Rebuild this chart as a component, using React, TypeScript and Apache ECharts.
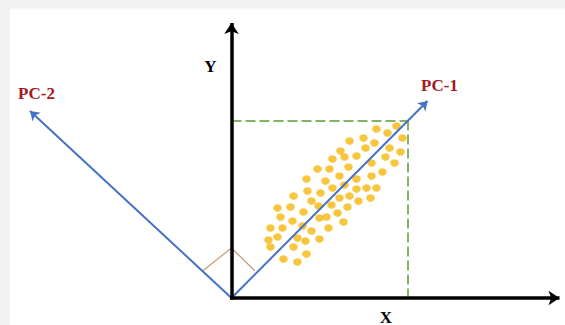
import React, { useEffect, useRef } from "react";
import * as echarts from "echarts";

// Data coordinates: origin of X/Y axes at (0, 0)
const dotsX = [145,165,156,171,132,118,143,134,158,169,109,113,125,101,154,163,140,98,86,117,151,140,75,94,108,125,113,101,125,135,145,76,89,62,118,108,127,139,80,100,87,116,46,59,72,106,49,88,95,61,112,71,39,51,80,97,46,37,66,74,88,39,62,75,52,66];
const dotsY = [169,172,165,160,160,157,155,150,150,146,147,141,142,139,141,135,135,129,129,131,126,122,119,117,122,119,113,110,109,110,110,107,105,102,102,100,97,100,97,93,92,91,90,91,86,85,81,80,81,77,76,72,70,70,67,70,61,58,60,57,59,51,51,44,39,36];

const axisEnds = { x: [328, 0], y: [0, 275] };
const pc1End = [196, 197];
const pc2End = [-201.5, 187];
const projection = [176.5, 177.5];
const rightAngle = [[-29, 27], [0, 50], [23.5, 27]];

const labelNames = ["Y", "X", "PC-1", "PC-2"];
const labelPos = [[-21, 232], [154.5, -19], [208, 213], [-195, 205]];

export default function App() {
  const ref = useRef<HTMLDivElement>(null);
  useEffect(() => {
    if (!ref.current) return;
    const chart = echarts.init(ref.current, null, { renderer: "svg" });
    const serif = "Liberation Serif";
    const blue = "#4472c4";
    const green = "#82b366";
    chart.setOption({
      animation: false,
      backgroundColor: "#ffffff",
      grid: { left: 0, right: 0, top: 0, bottom: 0, containLabel: false },
      xAxis: { type: "value", min: -231.5, max: 333.5, show: false },
      yAxis: { type: "value", min: -27, max: 298, show: false },
      graphic: [
        { type: "rect", shape: { x: 0, y: 0, width: 565, height: 8.5 }, style: { fill: "#f2f2f2" }, silent: true },
        { type: "rect", shape: { x: 0, y: 0, width: 10, height: 325 }, style: { fill: "#f2f2f2" }, silent: true },
      ],
      series: [
        {
          type: "lines",
          coordinateSystem: "cartesian2d",
          z: 2,
          lineStyle: { color: green, width: 2, type: [10, 4], opacity: 1 },
          symbol: "none",
          data: [
            { coords: [[0, projection[1]], [projection[0], projection[1]]] },
            { coords: [[projection[0], projection[1]], [projection[0], 0]] },
          ],
        },
        {
          type: "line",
          z: 2,
          symbol: "none",
          lineStyle: { color: "#c49a72", width: 1.2 },
          data: rightAngle,
        },
        {
          type: "scatter",
          z: 3,
          symbol: "circle",
          symbolSize: [8.5, 7.5],
          itemStyle: { color: "#f6b70e" },
          data: dotsX.map((x, i) => [x, dotsY[i]]),
        },
        {
          type: "lines",
          coordinateSystem: "cartesian2d",
          z: 4,
          lineStyle: { color: blue, width: 2, opacity: 1 },
          symbol: ["none", "arrow"],
          symbolSize: 9,
          data: [
            { coords: [[0, 0], pc1End] },
            { coords: [[0, 0], pc2End] },
          ],
        },
        {
          type: "lines",
          coordinateSystem: "cartesian2d",
          z: 5,
          lineStyle: { color: "#000000", width: 3.5, opacity: 1 },
          symbol: ["none", "arrow"],
          symbolSize: 11,
          data: [
            { coords: [[-1.5, 0], axisEnds.x] },
            { coords: [[0, -1.5], axisEnds.y] },
          ],
        },
      ],
    });
    const texts = labelNames.map((n, i) => {
      const p = chart.convertToPixel({ gridIndex: 0 }, labelPos[i]) as number[];
      return {
        type: "text",
        x: p[0],
        y: p[1],
        z: 10,
        style: {
          text: n,
          x: 0,
          y: 0,
          align: "center",
          verticalAlign: "middle",
          fontFamily: serif,
          fontWeight: "bold",
          fontSize: 17,
          fill: i < 2 ? "#000000" : "#a31a22",
        },
      };
    });
    chart.setOption({
      graphic: [
        { type: "rect", shape: { x: 0, y: 0, width: 565, height: 8.5 }, style: { fill: "#f2f2f2" }, silent: true },
        { type: "rect", shape: { x: 0, y: 0, width: 10, height: 325 }, style: { fill: "#f2f2f2" }, silent: true },
        ...texts,
      ],
    });
    return () => chart.dispose();
  }, []);
  return <div ref={ref} style={{ position: "fixed", left: 0, top: 0, width: 565, height: 325 }} />;
}
